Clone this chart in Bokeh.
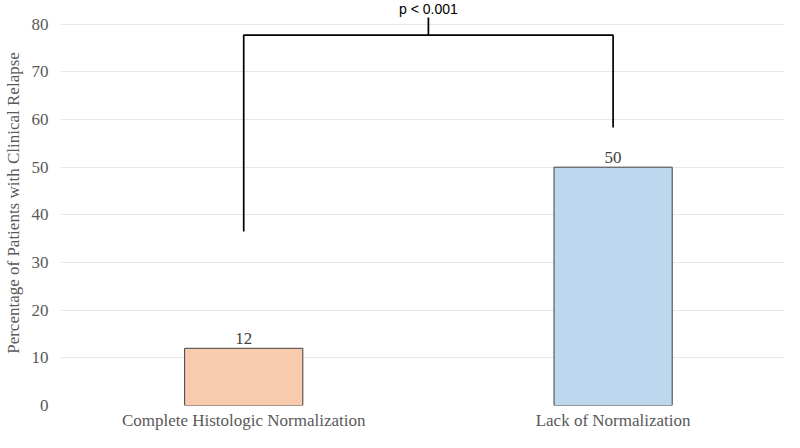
from bokeh.plotting import figure
from bokeh.models import Range1d, FixedTicker, ColumnDataSource, LabelSet
from bokeh.embed import file_html
from bokeh.resources import INLINE
from bokeh.core.properties import value

categories = ["Complete Histologic Normalization", "Lack of Normalization"]
relapse_pct = [12, 50]
bar_colors = ["#F8CBAD", "#BDD7EE"]
y_ticks = [0, 10, 20, 30, 40, 50, 60, 70, 80]

# significance bracket (left leg bottom, right leg bottom, bar height, tick top)
bracket_left_bottom = 36.5
bracket_right_bottom = 58.3
bracket_top = 77.7
bracket_tick_top = 81.4
p_text = "p < 0.001"

xpos = [i + 0.5 for i in range(len(categories))]

p = figure(width=784, height=432, output_backend="svg", toolbar_location=None,
           x_range=Range1d(0.004, 1.964), y_range=Range1d(0, 84.97),
           min_border_bottom=18, min_border_top=0, min_border_right=0, min_border_left=60)
p.outline_line_color = None
p.background_fill_color = "white"
p.border_fill_color = "white"

src = ColumnDataSource(dict(x=xpos, top=relapse_pct, color=bar_colors,
                            label=[str(v) for v in relapse_pct]))
p.vbar(x="x", top="top", bottom=0, width=0.32, fill_color="color",
       line_color="#404040", line_width=1, source=src)

labels = LabelSet(x="x", y="top", text="label", source=src, y_offset=4,
                  text_align="center", text_baseline="bottom",
                  text_font=value("Liberation Serif"), text_font_size="17px",
                  text_color="#404040")
p.add_layout(labels)

# bracket
p.line(x=[xpos[0], xpos[0], xpos[1], xpos[1]],
       y=[bracket_left_bottom, bracket_top, bracket_top, bracket_right_bottom],
       line_color="black", line_width=1.7)
mid = (xpos[0] + xpos[1]) / 2
p.line(x=[mid, mid], y=[bracket_top, bracket_tick_top], line_color="black", line_width=1.7)
p.text(x=[mid], y=[bracket_tick_top], text=[p_text], text_align="center",
       text_baseline="bottom", text_font=value("Liberation Sans"),
       text_font_size="14px", text_color="black", y_offset=-1)

# axes
p.xaxis.ticker = FixedTicker(ticks=xpos)
p.xaxis.major_label_overrides = {x: c for x, c in zip(xpos, categories)}
p.xaxis.major_label_text_font = "Liberation Serif"
p.xaxis.major_label_text_font_size = "17px"
p.xaxis.major_label_text_color = "#595959"
p.xaxis.major_label_standoff = 5
p.xaxis.major_tick_out = 0
p.xaxis.major_tick_in = 0
p.xaxis.axis_line_color = None
p.xaxis.major_tick_line_color = None
p.xaxis.minor_tick_line_color = None

p.yaxis.ticker = FixedTicker(ticks=y_ticks)
p.yaxis.major_label_text_font = "Liberation Serif"
p.yaxis.major_label_text_font_size = "17px"
p.yaxis.major_label_text_color = "#595959"
p.yaxis.major_label_standoff = 12
p.yaxis.major_tick_out = 0
p.yaxis.major_tick_in = 0
p.yaxis.axis_line_color = None
p.yaxis.major_tick_line_color = None
p.yaxis.minor_tick_line_color = None
p.yaxis.axis_label = "Percentage of Patients with Clinical Relapse"
p.yaxis.axis_label_text_font = "Liberation Serif"
p.yaxis.axis_label_text_font_size = "17px"
p.yaxis.axis_label_text_font_style = "normal"
p.yaxis.axis_label_text_color = "#595959"
p.yaxis.axis_label_standoff = 6

p.xgrid.grid_line_color = None
p.ygrid.ticker = FixedTicker(ticks=y_ticks)
p.ygrid.grid_line_color = "#e8e8e8"
p.ygrid.grid_line_width = 1

open("out.html", "w").write(file_html(p, INLINE))
